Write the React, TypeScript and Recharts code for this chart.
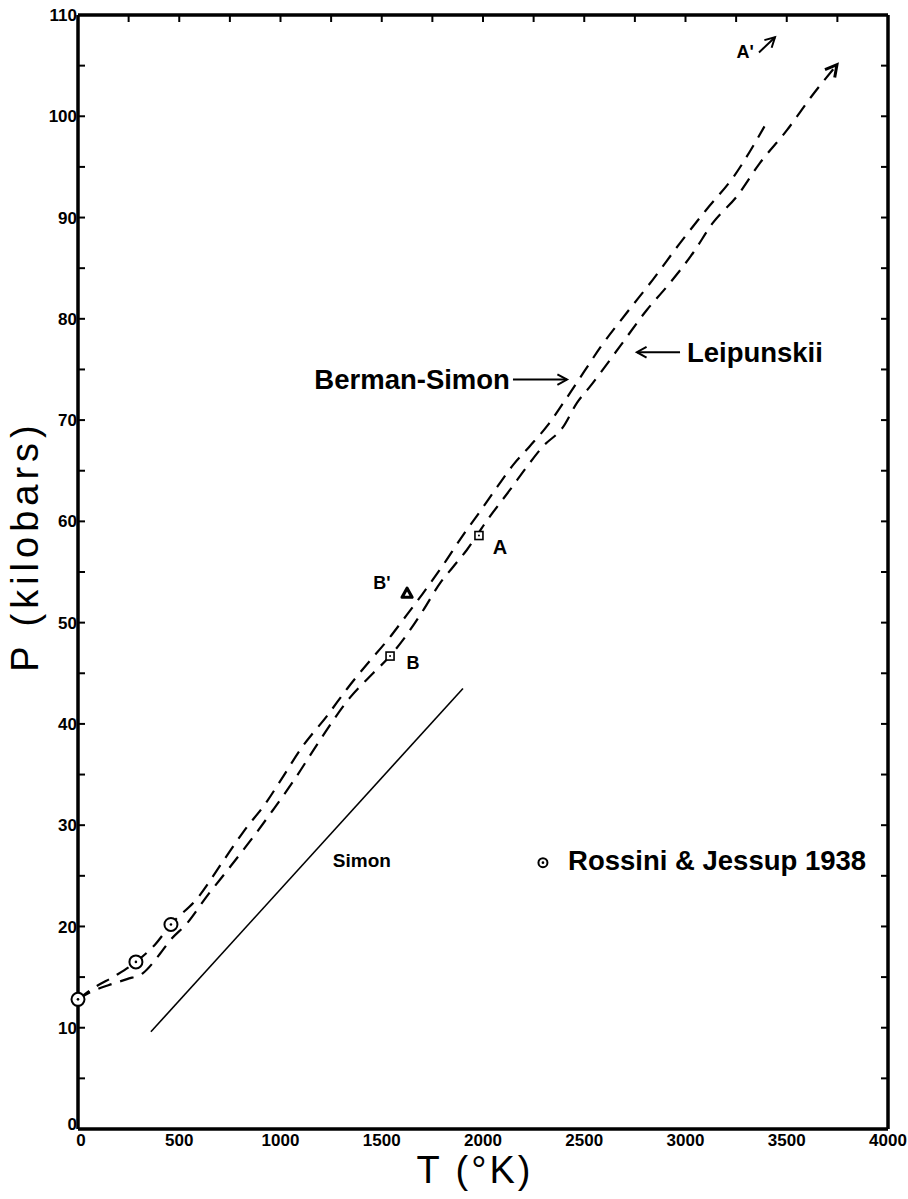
import {
  ComposedChart, Line, Scatter, XAxis, YAxis, ReferenceLine, ReferenceDot,
} from "recharts";

const FONT = '"Liberation Sans", Arial, Helvetica, sans-serif';

// Rossini & Jessup 1938 (circles)
const rossini = [
  { T: 0, P: 12.8 },
  { T: 286, P: 16.5 },
  { T: 459, P: 20.2 },
];

// points A and B (squares)
const squarePts = [
  { T: 1541, P: 46.7 },
  { T: 1980, P: 58.6 },
];

// point B' (triangle)
const triPts = [{ T: 1625, P: 52.9 }];

const bermanSimon = [
  { T: 0, P: 12.8 }, { T: 75, P: 13.9 }, { T: 190, P: 15.2 }, { T: 286, P: 16.5 },
  { T: 380, P: 18.2 }, { T: 459, P: 20.2 }, { T: 590, P: 22.8 }, { T: 715, P: 26.4 },
  { T: 815, P: 29.3 }, { T: 935, P: 32.4 }, { T: 1000, P: 34.4 }, { T: 1110, P: 37.8 },
  { T: 1230, P: 40.8 }, { T: 1330, P: 43.5 }, { T: 1440, P: 46.2 }, { T: 1530, P: 48.3 },
  { T: 1610, P: 50.4 }, { T: 1700, P: 52.8 }, { T: 1800, P: 55.6 }, { T: 1900, P: 58.6 },
  { T: 1990, P: 61.1 }, { T: 2070, P: 63.4 }, { T: 2150, P: 65.6 }, { T: 2230, P: 67.4 },
  { T: 2320, P: 69.5 }, { T: 2400, P: 71.8 }, { T: 2500, P: 74.8 }, { T: 2580, P: 77.2 },
  { T: 2710, P: 80.6 }, { T: 2840, P: 83.9 }, { T: 2970, P: 87.4 }, { T: 3100, P: 90.7 },
  { T: 3240, P: 94.1 }, { T: 3390, P: 99.0 },
];

const leipunskii = [
  { T: 0, P: 12.8 }, { T: 60, P: 13.5 }, { T: 150, P: 14.2 }, { T: 242, P: 14.8 },
  { T: 321, P: 15.4 }, { T: 405, P: 17.3 }, { T: 454, P: 18.6 }, { T: 538, P: 20.3 },
  { T: 637, P: 23.0 }, { T: 736, P: 25.5 }, { T: 864, P: 28.8 }, { T: 963, P: 31.5 },
  { T: 1062, P: 34.3 }, { T: 1195, P: 38.4 }, { T: 1343, P: 42.6 }, { T: 1457, P: 45.0 },
  { T: 1541, P: 46.7 }, { T: 1605, P: 48.3 }, { T: 1704, P: 51.2 }, { T: 1788, P: 53.9 },
  { T: 1852, P: 55.5 }, { T: 1921, P: 57.2 }, { T: 2020, P: 60.1 }, { T: 2133, P: 63.1 },
  { T: 2217, P: 65.4 }, { T: 2296, P: 67.4 }, { T: 2395, P: 69.3 }, { T: 2464, P: 71.7 },
  { T: 2528, P: 73.3 }, { T: 2677, P: 77.3 }, { T: 2810, P: 80.9 }, { T: 2909, P: 83.2 },
  { T: 3037, P: 86.5 }, { T: 3136, P: 89.5 }, { T: 3254, P: 92.1 }, { T: 3368, P: 95.4 },
  { T: 3500, P: 98.6 }, { T: 3620, P: 101.9 }, { T: 3748, P: 105.1 },
];

const simon = [
  { T: 360, P: 9.6 },
  { T: 1901, P: 43.5 },
];

const yTicks = [0, 5, 10, 15, 20, 25, 30, 35, 40, 45, 50, 55, 60, 65, 70, 75, 80, 85, 90, 95, 100, 105, 110];
const xTicks = [0, 500, 1000, 1500, 2000, 2500, 3000, 3500, 4000];
const xTopTicks = [250, 500, 750, 1000, 1250, 1500, 1750, 2000, 2250, 2500, 2750, 3000, 3250, 3500, 3750];
const rightTicks = [5, 10, 15, 20, 25, 30, 35, 40, 45, 50, 55, 60, 65, 70, 75, 80, 85, 90, 95, 100, 105];

const labels = [
  { T: 1402, P: 26.5, text: "Simon", size: 19, anchor: "middle" },
  { T: 2420, P: 26.5, text: "Rossini & Jessup 1938", size: 27.5, anchor: "start" },
  { T: 2133, P: 74.0, text: "Berman-Simon", size: 27.5, anchor: "end" },
  { T: 3007, P: 76.7, text: "Leipunskii", size: 27.5, anchor: "start" },
  { T: 2084, P: 57.5, text: "A", size: 20, anchor: "middle" },
  { T: 1654, P: 46.0, text: "B", size: 18, anchor: "middle" },
  { T: 1501, P: 53.9, text: "B'", size: 18, anchor: "middle" },
  { T: 3294, P: 106.4, text: "A'", size: 18, anchor: "middle" },
];

const pointers = [
  { from: { T: 2148, P: 74.0 }, to: { T: 2415, P: 74.0 } },
  { from: { T: 2973, P: 76.7 }, to: { T: 2760, P: 76.7 } },
  { from: { T: 3363, P: 106.3 }, to: { T: 3442, P: 107.8 } },
];

const legendMark = { T: 2296, P: 26.3 };

function headPoints(x1: number, y1: number, x2: number, y2: number, len: number) {
  const a = Math.atan2(y2 - y1, x2 - x1);
  const s = 0.5;
  const ax = x2 - len * Math.cos(a - s), ay = y2 - len * Math.sin(a - s);
  const bx = x2 - len * Math.cos(a + s), by = y2 - len * Math.sin(a + s);
  return `${ax},${ay} ${x2},${y2} ${bx},${by}`;
}

function Arrow(props: any) {
  const { x1, y1, x2, y2, shaft = true, len = 11, width = 2 } = props;
  if ([x1, y1, x2, y2].some((v) => typeof v !== "number" || isNaN(v))) return null;
  return (
    <g>
      {shaft && <line x1={x1} y1={y1} x2={x2} y2={y2} stroke="#000" strokeWidth={2} />}
      <polyline points={headPoints(x1, y1, x2, y2, len)} fill="none" stroke="#000"
        strokeWidth={width} strokeLinejoin="miter" />
    </g>
  );
}

function CircleMark({ cx, cy, r = 6.5 }: any) {
  return (
    <g>
      <circle cx={cx} cy={cy} r={r} fill="#fff" stroke="#000" strokeWidth={2} />
      <circle cx={cx} cy={cy} r={1.3} fill="#000" />
    </g>
  );
}

function SquareMark({ cx, cy }: any) {
  return (
    <g>
      <rect x={cx - 4} y={cy - 4} width={8} height={8} fill="#fff" stroke="#000" strokeWidth={1.6} />
      <circle cx={cx} cy={cy} r={1} fill="#000" />
    </g>
  );
}

function TriMark({ cx, cy }: any) {
  return (
    <path d={`M${cx - 5},${cy + 4} L${cx},${cy - 5} L${cx + 5},${cy + 4} Z`}
      fill="#fff" stroke="#000" strokeWidth={3.2} strokeLinejoin="round" />
  );
}

const TICK_TEXT = { fill: "#000", fontSize: 17, fontWeight: 700, fontFamily: FONT };

function LeftTick({ x, y, payload }: any) {
  const v = payload?.value;
  return (
    <g>
      <line x1={x} y1={y} x2={x + 7} y2={y} stroke="#000" strokeWidth={2} />
      {v % 10 === 0 && (
        <text x={x - 1} y={v === 0 ? y - 5 : y} dy="0.36em" textAnchor="end" {...TICK_TEXT}>{v}</text>
      )}
    </g>
  );
}

function BottomTick({ x, y, payload }: any) {
  const v = payload?.value;
  return (
    <text x={v === 0 ? x + 3 : x} y={y + 17} textAnchor="middle" {...TICK_TEXT}>{v}</text>
  );
}

function YTitle({ viewBox }: any) {
  if (!viewBox) return null;
  const x = viewBox.x + 38;
  const y = viewBox.y + viewBox.height / 2 - 26;
  return (
    <text x={x} y={y} transform={`rotate(-90, ${x}, ${y})`} textAnchor="middle"
      fontFamily={FONT} fontSize={38} letterSpacing={5} fill="#000">P (kilobars)</text>
  );
}

function XTitle({ viewBox }: any) {
  if (!viewBox) return null;
  const x = viewBox.x + viewBox.width / 2 - 8;
  const y = viewBox.y + 54;
  return (
    <text x={x} y={y} textAnchor="middle" fontFamily={FONT} fontSize={38} letterSpacing={3}
      fill="#000">T (°K)</text>
  );
}

const FRAME = { stroke: "#000", strokeWidth: 3.5 };

export default function App() {
  return (
    <div style={{ position: "absolute", left: 0, top: 0, width: 908, height: 1199, background: "#fff" }}>
      <ComposedChart width={908} height={1199} margin={{ top: 15, right: 20, bottom: 0, left: 0 }}>
        <XAxis dataKey="T" type="number" domain={[0, 4000]} ticks={xTicks} interval={0}
          height={70} tickLine={false} tickSize={0} tickMargin={0} tick={<BottomTick />}
          axisLine={FRAME} label={<XTitle />} />
        <YAxis dataKey="P" type="number" domain={[0, 110]} ticks={yTicks} interval={0} width={78}
          tickLine={false} tickSize={0} tickMargin={0} tick={<LeftTick />}
          axisLine={FRAME} label={<YTitle />} />

        {/* top and right frame with inward ticks */}
        <ReferenceLine y={110} stroke="#000" strokeWidth={3.5} />
        <ReferenceLine x={4000} stroke="#000" strokeWidth={3.5} />
        {xTopTicks.map((t) => (
          <ReferenceDot key={`tt-${t}`} x={t} y={110} r={0}
            shape={(p: any) => <line x1={p.cx} y1={p.cy} x2={p.cx} y2={p.cy + 7} stroke="#000" strokeWidth={2} />} />
        ))}
        {rightTicks.map((v) => (
          <ReferenceDot key={`rt-${v}`} x={4000} y={v} r={0}
            shape={(p: any) => <line x1={p.cx - 7} y1={p.cy} x2={p.cx} y2={p.cy} stroke="#000" strokeWidth={2} />} />
        ))}

        <Line data={simon} dataKey="P" type="linear" stroke="#000" strokeWidth={1.6}
          dot={false} isAnimationActive={false} />
        <Line data={bermanSimon} dataKey="P" type="monotone" stroke="#000" strokeWidth={2.2}
          strokeDasharray="14 9" dot={false} isAnimationActive={false} />
        <Line data={leipunskii} dataKey="P" type="monotone" stroke="#000" strokeWidth={2.2}
          strokeDasharray="14 9" dot={false} isAnimationActive={false} />

        <Scatter data={rossini} dataKey="P" isAnimationActive={false}
          shape={(p: any) => <CircleMark cx={p.cx} cy={p.cy} />} />
        <Scatter data={squarePts} dataKey="P" isAnimationActive={false}
          shape={(p: any) => <SquareMark cx={p.cx} cy={p.cy} />} />
        <Scatter data={triPts} dataKey="P" isAnimationActive={false}
          shape={(p: any) => <TriMark cx={p.cx} cy={p.cy} />} />

        <ReferenceLine
          segment={[
            { x: leipunskii[leipunskii.length - 2].T, y: leipunskii[leipunskii.length - 2].P },
            { x: leipunskii[leipunskii.length - 1].T, y: leipunskii[leipunskii.length - 1].P },
          ]}
          shape={(p: any) => <Arrow {...p} shaft={false} len={13} width={3} />} />
        {pointers.map((a, i) => (
          <ReferenceLine key={`ptr-${i}`}
            segment={[{ x: a.from.T, y: a.from.P }, { x: a.to.T, y: a.to.P }]}
            shape={(p: any) => <Arrow {...p} />} />
        ))}

        <ReferenceDot x={legendMark.T} y={legendMark.P} r={0}
          shape={(p: any) => <CircleMark cx={p.cx} cy={p.cy} r={4.5} />} />
        {labels.map((l, i) => (
          <ReferenceDot key={`lbl-${i}`} x={l.T} y={l.P} r={0}
            shape={(p: any) => (
              <text x={p.cx} y={p.cy} dy="0.35em" textAnchor={l.anchor} fontFamily={FONT}
                fontSize={l.size} fontWeight={700} fill="#000">{l.text}</text>
            )} />
        ))}
      </ComposedChart>
    </div>
  );
}
